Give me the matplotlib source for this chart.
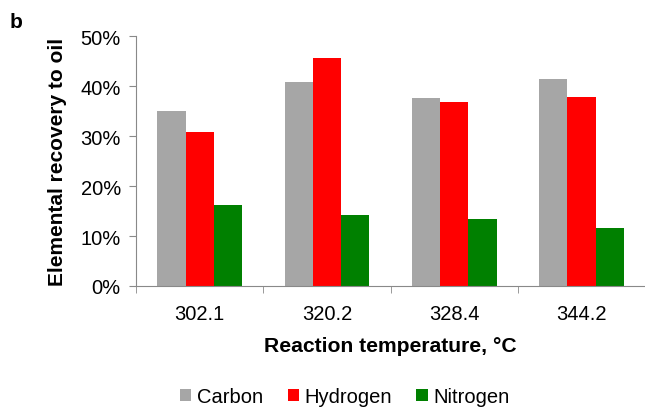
import matplotlib.pyplot as plt
import numpy as np
from matplotlib.ticker import PercentFormatter, FixedLocator

temperatures = ["302.1", "320.2", "328.4", "344.2"]
carbon = [35.0, 40.9, 37.7, 41.4]
hydrogen = [30.8, 45.7, 36.8, 37.8]
nitrogen = [16.2, 14.3, 13.4, 11.6]

series = [("Carbon", carbon, "#A6A6A6"),
          ("Hydrogen", hydrogen, "#FF0000"),
          ("Nitrogen", nitrogen, "#008000")]

plt.rcParams.update({
    "font.family": ["Liberation Sans", "DejaVu Sans"],
    "font.size": 14.5,
})

fig = plt.figure(figsize=(6.45, 4.1), dpi=100)
ax = fig.add_axes([0.211, 0.30, 0.789, 0.609])

x = np.arange(len(temperatures))
width = 0.222
for i, (name, vals, color) in enumerate(series):
    ax.bar(x + (i - 1) * width, vals, width, color=color, label=name)

ax.set_xlim(-0.5, len(temperatures) - 0.5)
ax.set_ylim(0, 50)
ax.set_yticks(np.arange(0, 51, 10))
ax.yaxis.set_major_formatter(PercentFormatter(decimals=0))
ax.set_xticks(x, temperatures)
ax.xaxis.set_minor_locator(FixedLocator(np.arange(-0.5, len(temperatures), 1)))
ax.tick_params(axis="x", which="major", length=0, pad=13, labelsize=14.5)
ax.tick_params(axis="x", which="minor", length=5, color="#898989", direction="out")
ax.tick_params(axis="y", length=5, color="#898989", labelsize=14.5, pad=6)

for side in ["top", "right"]:
    ax.spines[side].set_visible(False)
for side in ["left", "bottom"]:
    ax.spines[side].set_color("#898989")

ax.set_xlabel("Reaction temperature, \u00b0C", fontweight="bold", fontsize=15.2, labelpad=9)
ax.set_ylabel("Elemental recovery to oil", fontweight="bold", fontsize=15, labelpad=10)

fig.text(0.015, 0.945, "b", fontweight="bold", fontsize=15, va="center")

handles, labels = ax.get_legend_handles_labels()
fig.legend(handles, labels, loc="center", bbox_to_anchor=(0.535, 0.03), ncol=3,
           frameon=False, fontsize=14.5, handlelength=0.55, handleheight=0.55,
           handletextpad=0.3, columnspacing=1.2)

fig.savefig("out.png", dpi=100)
